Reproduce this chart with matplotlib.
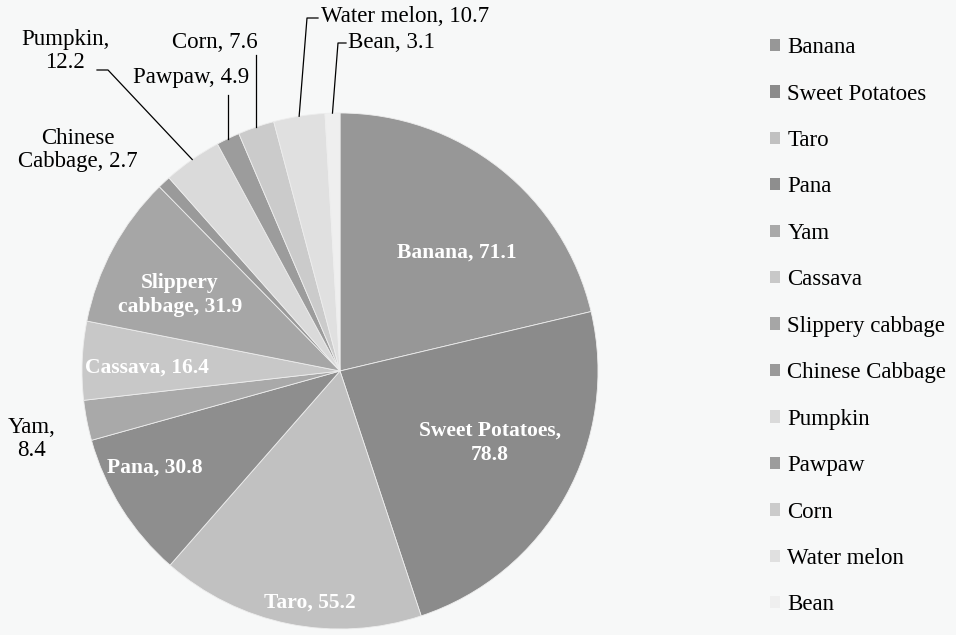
import numpy as np
import matplotlib
matplotlib.use("Agg")
import matplotlib.pyplot as plt
from matplotlib.patches import Patch

crops = ["Banana", "Sweet Potatoes", "Taro", "Pana", "Yam", "Cassava",
         "Slippery cabbage", "Chinese Cabbage", "Pumpkin", "Pawpaw", "Corn",
         "Water melon", "Bean"]
values = [71.1, 78.8, 55.2, 30.8, 8.4, 16.4, 31.9, 2.7, 12.2, 4.9, 7.6, 10.7, 3.1]
greys = ["#979797", "#8b8b8b", "#c1c1c1", "#8e8e8e", "#a9a9a9", "#c8c8c8",
         "#a6a6a6", "#9a9a9a", "#dadada", "#9c9c9c", "#cbcbcb", "#e0e0e0", "#efefef"]

BG = "#f7f8f8"
W, H = 956, 635
CX, CY, R = 340, 371, 258   # pie centre and radius in pixels


def px(x, y):
    # pixel position -> pie data units
    return ((x - CX) / R, (CY - y) / R)


plt.rcParams["font.family"] = ["Liberation Serif", "DejaVu Serif"]

fig = plt.figure(figsize=(W / 100, H / 100), dpi=100, facecolor=BG)
ax = fig.add_axes([0, 0, 740 / W, 1])
ax.set_facecolor(BG)

wedges, _ = ax.pie(values, colors=greys, startangle=90, counterclock=False,
                   radius=1, wedgeprops=dict(edgecolor="#ededed", linewidth=0.6))
ax.set_xlim(-CX / R, (740 - CX) / R)
ax.set_ylim(-(H - CY) / R, CY / R)
ax.set_aspect("equal")
ax.axis("off")

# white labels inside the big slices
inside = {
    0: ("Banana, 71.1", (457, 253)),
    1: ("Sweet Potatoes,\n78.8", (490, 443)),
    2: ("Taro, 55.2", (310, 603)),
    3: ("Pana, 30.8", (155, 468)),
    5: ("Cassava, 16.4", (147, 368)),
    6: ("Slippery\ncabbage, 31.9", (180, 295)),
}
for i, (txt, (x, y)) in inside.items():
    ax.text(*px(x, y), txt, ha="center", va="center", color="white",
            fontsize=15.5, fontweight="bold", linespacing=1.3)

# outside labels (x, y, horizontal alignment)
outside = {
    4: ("Yam,\n8.4", (32, 439), "center"),
    7: ("Chinese\nCabbage, 2.7", (78, 150), "center"),
    8: ("Pumpkin,\n12.2", (65, 51), "center"),
    9: ("Pawpaw, 4.9", (191, 77), "center"),
    10: ("Corn, 7.6", (215, 43), "center"),
    11: ("Water melon, 10.7", (321, 17), "left"),
    12: ("Bean, 3.1", (348, 43), "left"),
}
for i, (txt, (x, y), ha) in outside.items():
    ax.text(*px(x, y), txt, ha=ha, va="center", color="black",
            fontsize=16.5, linespacing=1.15)


def edge_point(i):
    w = wedges[i]
    a = np.deg2rad((w.theta1 + w.theta2) / 2)
    return np.cos(a), np.sin(a)


# leader lines: elbow points in pixels, ending on the slice edge
leaders = {
    8: [(97, 70), (108, 70)],
    9: [None, 95],
    10: [None, 55],
    11: [(318, 18), (307, 18)],
    12: [(346, 43), (338, 43)],
}
for i, pts in leaders.items():
    ex, ey = edge_point(i)
    if pts[0] is None:
        sx, sy = px(0, pts[1])
        xs, ys = [ex, ex], [sy, ey]
    else:
        (a, b), (c, d) = px(*pts[0]), px(*pts[1])
        xs, ys = [a, c, ex], [b, d, ey]
    ax.plot(xs, ys, color="black", lw=0.9)

handles = [Patch(facecolor=c, edgecolor="none") for c in greys]
fig.legend(handles, crops, loc="upper left", bbox_to_anchor=(761 / W, 1 - 28 / H),
           frameon=False, fontsize=16.5, handlelength=0.45, handleheight=0.45,
           handletextpad=0.3, labelspacing=1.11, borderaxespad=0)

fig.savefig("out.png", dpi=100, facecolor=BG)
